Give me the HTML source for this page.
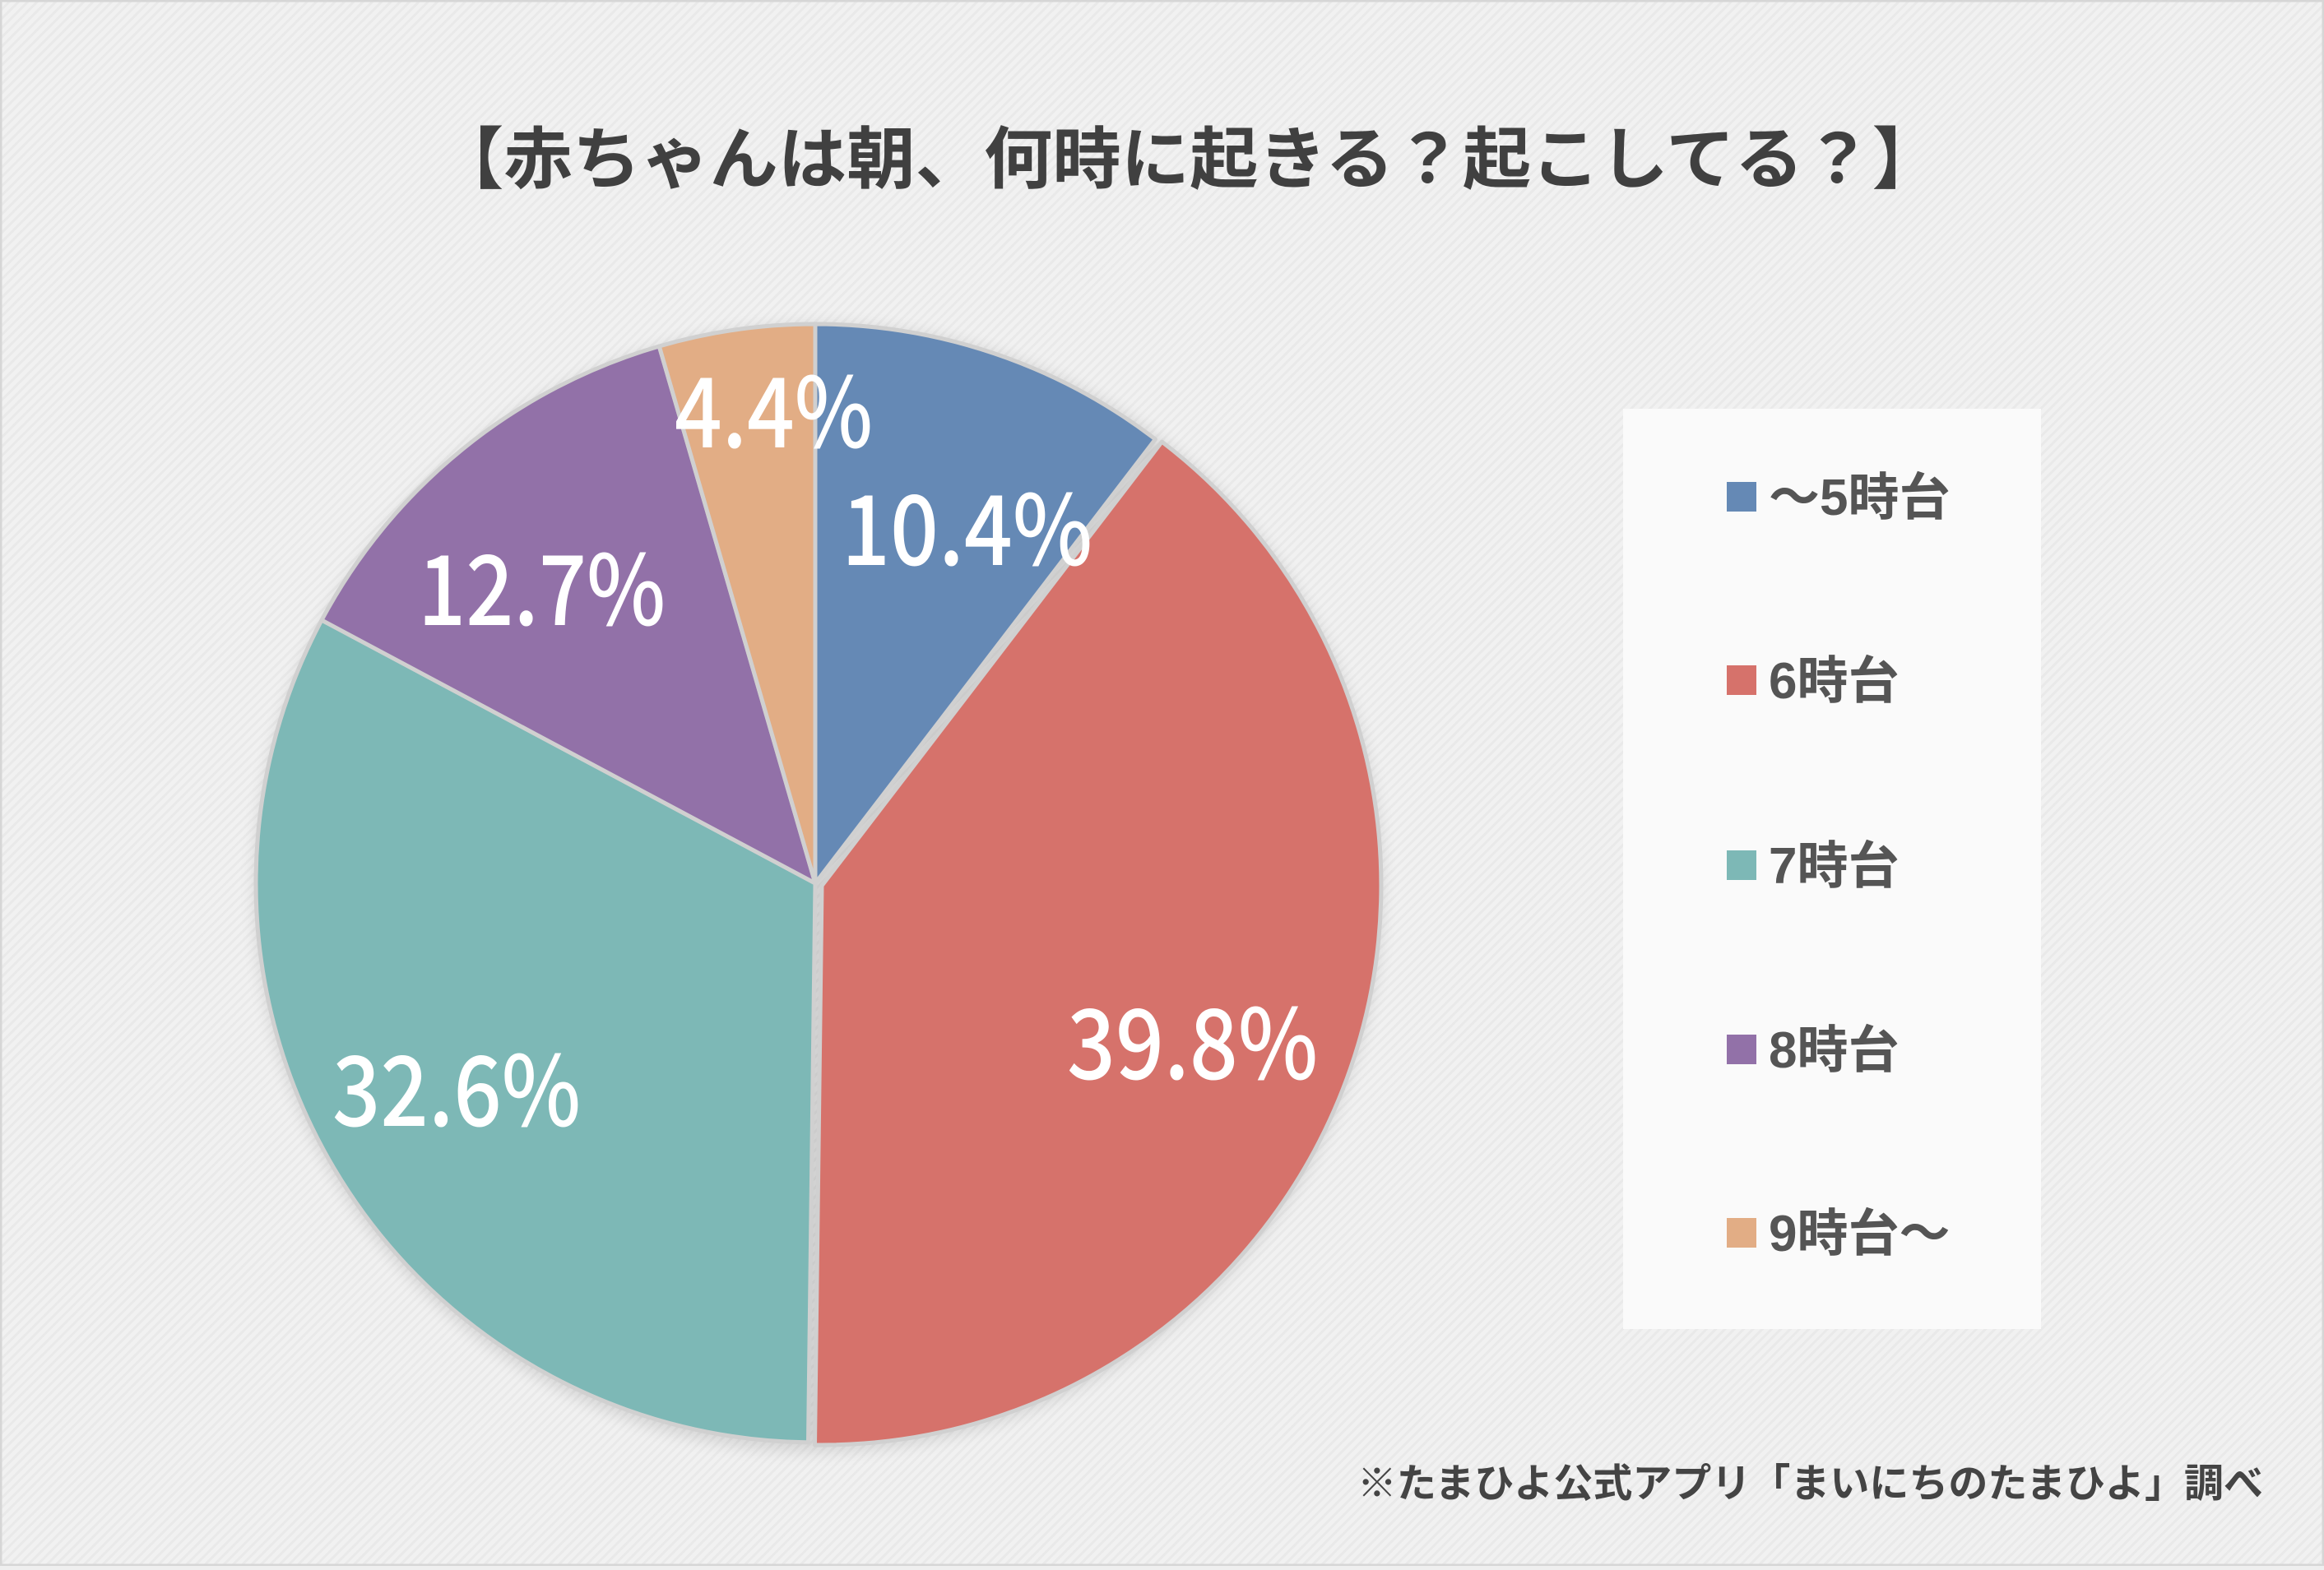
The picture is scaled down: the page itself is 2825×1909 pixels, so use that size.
<!DOCTYPE html>
<html><head><meta charset="utf-8"><style>
html,body{margin:0;padding:0;}
body{width:2825px;height:1904px;background:#efefef;overflow:hidden;}
</style></head><body>
<svg width="2825" height="1904" viewBox="0 0 2825 1904" xmlns="http://www.w3.org/2000/svg">
<defs>
<pattern id="st" width="8" height="8" patternUnits="userSpaceOnUse" patternTransform="rotate(45)">
<rect width="8" height="8" fill="#f1f1f1"/><rect width="3" height="8" fill="#e9e9e9"/>
</pattern>
<filter id="sh" x="-10%" y="-10%" width="120%" height="120%"><feGaussianBlur stdDeviation="10"/></filter>
</defs>
<rect width="2825" height="1904" fill="url(#st)"/>
<rect x="1" y="1" width="2823" height="1902" fill="none" stroke="#d6d6d6" stroke-width="3"/>
<text x="1444" y="222" text-anchor="middle" textLength="1830" lengthAdjust="spacingAndGlyphs" font-family="Liberation Sans, Noto Sans CJK JP, sans-serif" font-weight="bold" font-size="82" fill="#404040">【赤ちゃんは朝、何時に起きる？起こしてる？】</text>
<circle cx="995" cy="1080" r="684" fill="#000" opacity="0.12" filter="url(#sh)"/>
<g stroke="#d0d0d0" stroke-width="5" stroke-linejoin="round">
<path d="M991,1074 L991,394 A680,680 0 0 1 1404.4,534.1 Z" fill="#6589b5"/>
<path transform="translate(8,3)" d="M991,1074 L1404.4,534.1 A680,680 0 0 1 982.5,1753.9 Z" fill="#d6726b"/>
<path d="M991,1074 L982.5,1753.9 A680,680 0 0 1 391,754 Z" fill="#7db8b6"/>
<path d="M991,1074 L391,754 A680,680 0 0 1 801.3,421 Z" fill="#9271a8"/>
<path d="M991,1074 L801.3,421 A680,680 0 0 1 991,394 Z" fill="#e2ad85"/>
</g>
<g font-family="Noto Sans CJK JP, Liberation Sans, sans-serif" font-size="118" fill="#fff" font-weight="500">
<text x="1023" y="687" textLength="305" lengthAdjust="spacingAndGlyphs">10.4%</text>
<text x="1297" y="1312" textLength="305" lengthAdjust="spacingAndGlyphs">39.8%</text>
<text x="404" y="1369" textLength="302" lengthAdjust="spacingAndGlyphs">32.6%</text>
<text x="508" y="760" textLength="301" lengthAdjust="spacingAndGlyphs">12.7%</text>
<text x="820" y="544" textLength="241" lengthAdjust="spacingAndGlyphs">4.4%</text>
</g>
<rect x="1973" y="497" width="508" height="1119" fill="#fafafa"/>
<g font-family="Liberation Sans, Noto Sans CJK JP, sans-serif" font-weight="bold" font-size="62" fill="#555">
<rect x="2099" y="586" width="36" height="36" fill="#6589b5"/><text x="2150" y="626">～5時台</text>
<rect x="2099" y="809" width="36" height="36" fill="#d6726b"/><text x="2150" y="849">6時台</text>
<rect x="2099" y="1034" width="36" height="36" fill="#7db8b6"/><text x="2150" y="1074">7時台</text>
<rect x="2099" y="1258" width="36" height="36" fill="#9271a8"/><text x="2150" y="1298">8時台</text>
<rect x="2099" y="1481" width="36" height="36" fill="#e2ad85"/><text x="2150" y="1521">9時台～</text>
</g>
<text x="2751" y="1820" text-anchor="end" font-family="Liberation Sans, Noto Sans CJK JP, sans-serif" font-weight="bold" font-size="48" fill="#444">※たまひよ公式アプリ「まいにちのたまひよ」調べ</text>
</svg>
</body></html>
